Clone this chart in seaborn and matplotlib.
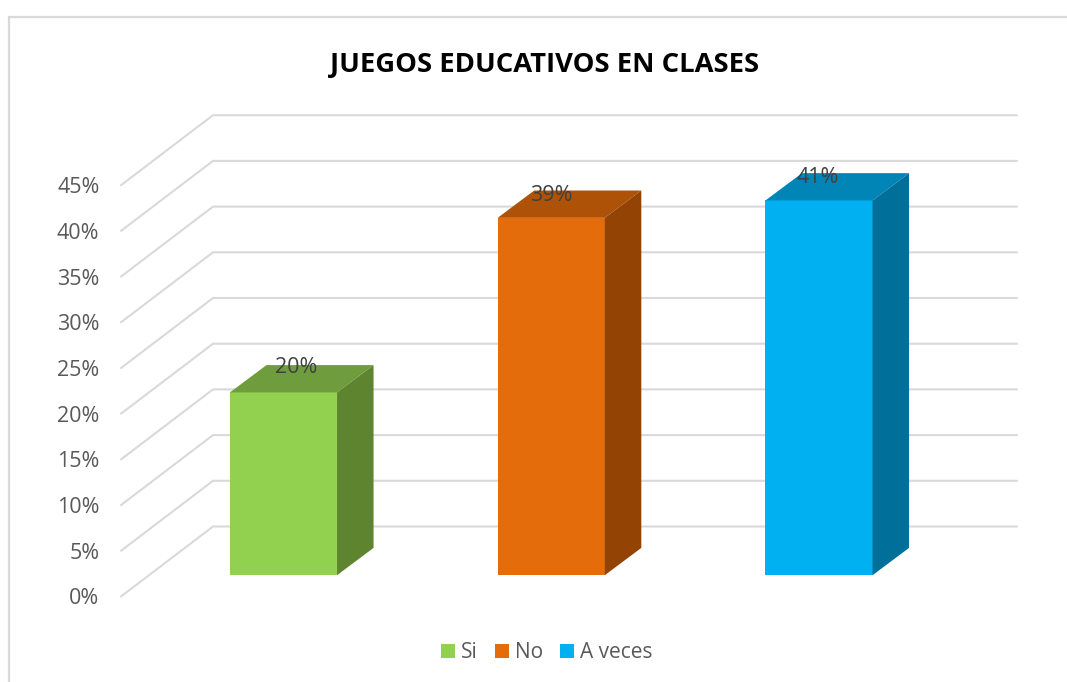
import matplotlib
matplotlib.use("Agg")
import matplotlib.pyplot as plt
from matplotlib.patches import Polygon, Rectangle
import pandas as pd
import seaborn as sns

categories = ["Si", "No", "A veces"]
values = [20, 39.1, 41]
value_labels = ["20%", "39%", "41%"]
y_ticks = [0, 5, 10, 15, 20, 25, 30, 35, 40, 45]
y_tick_labels = ["0%", "5%", "10%", "15%", "20%", "25%", "30%", "35%", "40%", "45%"]
front_colors = ["#92D050", "#E46C0A", "#00B0F0"]
top_colors = ["#6F9D3D", "#AD5207", "#0085B6"]
side_colors = ["#5E8430", "#934405", "#00709B"]
title = "JUEGOS EDUCATIVOS EN CLASES"

W, H = 1067, 682
sns.set_theme(style="white")
plt.rcParams["font.family"] = ["Open Sans", "DejaVu Sans"]

fig = plt.figure(figsize=(W / 100, H / 100), dpi=100, facecolor="white")
fig.add_artist(Rectangle((8.5 / W, -0.1), 1.2, 1.1 - 16.5 / H, transform=fig.transFigure,
                         fill=False, edgecolor="#D9D9D9", linewidth=1.6))

# plot area in pixels: front-left corner of the floor to back-right of the wall
left, right, y0, top = 121, 1017, 596.5, 115
ax = fig.add_axes([left / W, 1 - y0 / H, (right - left) / W, (y0 - top) / H])
ax.patch.set_alpha(0)

px_x = 267.75   # pixels per category
px_y = 9.14     # pixels per percent
xmin = (left - 256.5) / px_x
xmax = (right - 256.5) / px_x
ymax = (y0 - top) / px_y

# depth of floor, and where the bars sit in it (data units)
floor_dx, floor_dy = 92 / px_x, 70 / px_y
bar_front_dx, bar_front_dy = 27 / px_x, 21.3 / px_y
bar_dx, bar_dy = 36.5 / px_x, 27.3 / px_y
label_shift_px = [13, 0, -1]
label_rise_px = [-2.5, -5, -4]

df = pd.DataFrame({"cat": categories, "val": values})
sns.barplot(data=df, x="cat", y="val", hue="cat", palette=front_colors, hue_order=categories,
            order=categories, width=0.4, dodge=False, legend=True, ax=ax, zorder=3,
            saturation=1, linewidth=0)

ax.set_xlim(xmin, xmax)
ax.set_ylim(0, ymax)

grid_c = "#D9D9D9"
for t in y_ticks:
    ax.plot([xmin, xmin + floor_dx, xmax], [t, t + floor_dy, t + floor_dy],
            color=grid_c, lw=1.5, zorder=1, solid_joinstyle="miter", clip_on=False)

bars = [p for c in ax.containers for p in c]
for i, p in enumerate(bars):
    p.set_x(p.get_x() + bar_front_dx)
    p.set_y(bar_front_dy)
    x0, x1 = p.get_x(), p.get_x() + p.get_width()
    yb, yt = bar_front_dy, bar_front_dy + values[i]
    ax.add_patch(Polygon([(x0, yt), (x1, yt), (x1 + bar_dx, yt + bar_dy), (x0 + bar_dx, yt + bar_dy)],
                         closed=True, facecolor=top_colors[i], edgecolor="none", zorder=3))
    ax.add_patch(Polygon([(x1, yb), (x1 + bar_dx, yb + bar_dy), (x1 + bar_dx, yt + bar_dy), (x1, yt)],
                         closed=True, facecolor=side_colors[i], edgecolor="none", zorder=3))
    ax.text((x0 + x1) / 2 + label_shift_px[i] / px_x, yt + bar_dy + label_rise_px[i] / px_y,
            value_labels[i], ha="center", va="center", fontsize=15.5, color="#404040", zorder=5)

ax.set_yticks(y_ticks)
ax.set_yticklabels(y_tick_labels, fontsize=15.5, color="#595959")
ax.set_xticks([])
ax.set_xlabel("")
ax.set_ylabel("")
ax.tick_params(axis="y", length=0, pad=15.5)
sns.despine(ax=ax, left=True, bottom=True)

handles, labels = ax.get_legend_handles_labels()
ax.legend(handles, labels, loc="center", bbox_to_anchor=(547 / W, 1 - 653 / H),
          bbox_transform=fig.transFigure, ncol=3, frameon=False, fontsize=15,
          labelcolor="#595959", handlelength=0.68, handleheight=0.68, handletextpad=0.3,
          columnspacing=0.8)

fig.text(544.5 / W, 1 - 64.5 / H, title, ha="center", va="center", fontsize=19.7,
         fontweight="bold", color="black")

fig.savefig("out.png", dpi=100)
